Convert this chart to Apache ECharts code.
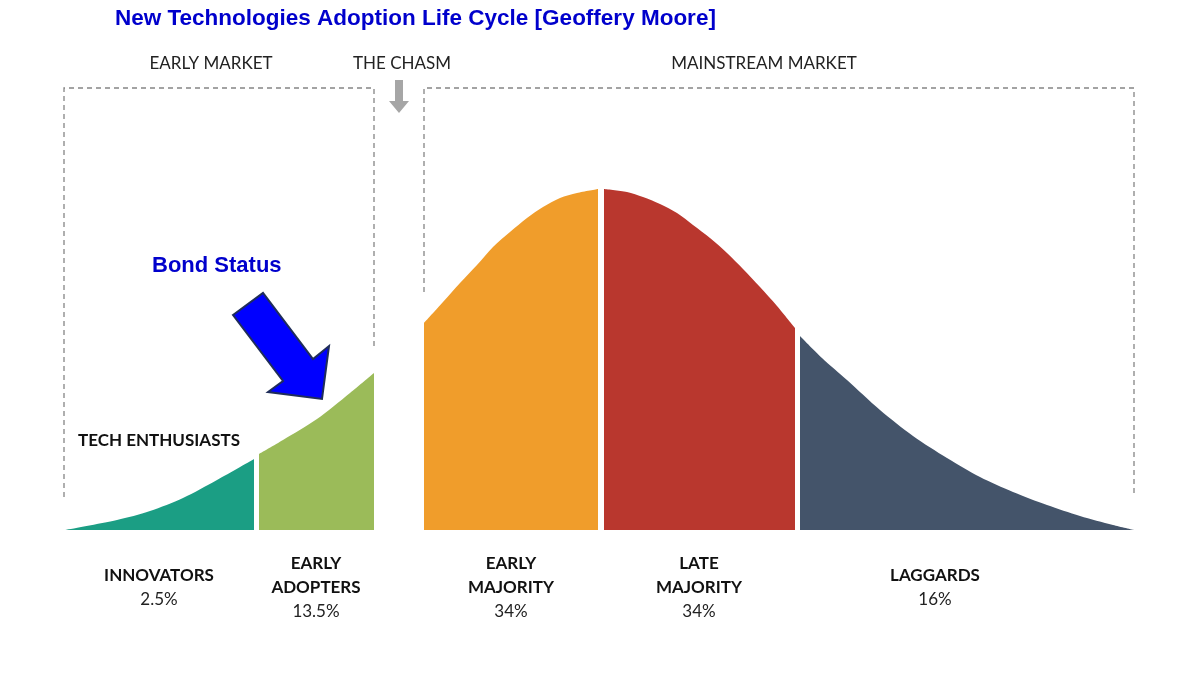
<!DOCTYPE html>
<html>
<head>
<meta charset="utf-8">
<title>Technology Adoption Life Cycle</title>
<script src="https://cdn.jsdelivr.net/npm/echarts@6/dist/echarts.min.js"></script>
<style>
  html, body { margin: 0; padding: 0; background: #fff; }
  #main { width: 1200px; height: 675px; }
</style>
</head>
<body>
<div id="main"></div>
<script>
// segment names, shares and personas
var segments = ['INNOVATORS', 'EARLY\nADOPTERS', 'EARLY\nMAJORITY', 'LATE\nMAJORITY', 'LAGGARDS'];
var shares = ['2.5%', '13.5%', '34%', '34%', '16%'];
var personas = ['TECH ENTHUSIASTS', 'VISIONARIES', 'PRAGMATISTS', 'CONSERVATIVES', 'SKEPTICS'];
var markets = ['EARLY MARKET', 'THE CHASM', 'MAINSTREAM MARKET'];

// curve heights  [x, height above baseline]
var innovators = [[65, 0], [117, 10], [150, 19], [183, 32], [217, 50], [254, 71]];
var earlyAdopters = [[259, 76], [283, 90], [317, 111], [350, 137], [374, 157]];
var earlyMajority = [[424, 207], [443, 228], [460, 247], [477, 265], [493, 283], [510, 298],
  [527, 312], [543, 323], [560, 332], [577, 337], [598, 341]];
var lateMajority = [[604, 341], [627, 338], [643, 333], [660, 326], [677, 317], [693, 305],
  [710, 292], [727, 277], [743, 261], [760, 243], [777, 224], [795, 202]];
var laggards = [[800, 194], [822, 172], [847, 150], [880, 120], [913, 94], [947, 72], [980, 53],
  [1013, 38], [1047, 25], [1080, 14], [1113, 5], [1134, 0]];

var colors = ['#1b9e84', '#9bbb59', '#f09d2b', '#b9372e', '#44546a'];

var myChart = echarts.init(document.getElementById('main'));

// label layout (axis units == pixels)
var segX = [159, 316, 511, 699, 935];
var personaPos = [[159, 441], [316, 495], [511, 383], [699, 383], [893, 495]];
var personaColor = ['#111', '#fff', '#fff', '#fff', '#fff'];
var marketX = [211, 402, 764];

function areaSeries(name, data, color) {
  return {
    name: name,
    type: 'line',
    data: data,
    smooth: 0.3,
    symbol: 'none',
    lineStyle: { width: 0 },
    areaStyle: { color: color, opacity: 1 },
    silent: true
  };
}

var graphics = [];

// title
graphics.push({
  type: 'text', left: 115, top: 7,
  style: { text: 'New Technologies Adoption Life Cycle [Geoffery Moore]', fill: '#0000cc',
    font: 'bold 22.5px "Liberation Sans", Arial, sans-serif' }
});
// bond status
graphics.push({
  type: 'text', left: 152, top: 255,
  style: { text: 'Bond Status', fill: '#0000cc', font: 'bold 22px "Liberation Sans", Arial, sans-serif' }
});

// market headers
markets.forEach(function (m, i) {
  graphics.push({
    type: 'text', x: marketX[i], y: 64,
    style: { text: m, fill: '#222', font: '17px Lato, "Open Sans", sans-serif',
      align: 'center', verticalAlign: 'middle' }
  });
});

// dashed boxes
graphics.push({
  type: 'polyline',
  shape: { points: [[64, 497], [64, 88], [374, 88], [374, 347]] },
  style: { stroke: '#858585', lineWidth: 1.3, lineDash: [5, 4], fill: null }
});
graphics.push({
  type: 'polyline',
  shape: { points: [[424, 292], [424, 88], [1134, 88], [1134, 497]] },
  style: { stroke: '#858585', lineWidth: 1.3, lineDash: [5, 4], fill: null }
});

// chasm arrow
graphics.push({
  type: 'polygon',
  shape: { points: [[395, 80], [403, 80], [403, 101], [409, 101], [399, 113], [389, 101], [395, 101]] },
  style: { fill: '#a6a6a6' }
});

// blue block arrow
graphics.push({
  type: 'polygon',
  shape: { points: [[233, 315], [263, 293], [313, 359], [329, 346], [322, 399], [268, 392], [283, 381]] },
  style: { fill: '#0000ff', stroke: '#1f2d5a', lineWidth: 2, lineJoin: 'miter' }
});

// personas
personas.forEach(function (p, i) {
  graphics.push({
    type: 'text', x: personaPos[i][0], y: personaPos[i][1],
    style: { text: p, fill: personaColor[i], font: 'bold 17px Lato, "Open Sans", sans-serif',
      align: 'center', verticalAlign: 'middle' }
  });
});

// segment names and shares
segments.forEach(function (s, i) {
  graphics.push({
    type: 'text', x: segX[i], y: 588,
    style: {
      text: '{b|' + s.split('\n').join('}\n{b|') + '}\n{p|' + shares[i] + '}',
      align: 'center', verticalAlign: 'middle',
      rich: {
        b: { fill: '#111', font: 'bold 17px Lato, "Open Sans", sans-serif', lineHeight: 24, align: 'center' },
        p: { fill: '#222', font: '17px Lato, "Open Sans", sans-serif', lineHeight: 24, align: 'center' }
      }
    }
  });
});

option = {
  backgroundColor: '#ffffff',
  animation: false,
  grid: { left: 0, right: 0, top: 0, bottom: 0 },
  xAxis: { type: 'value', min: 0, max: 1200, show: false },
  yAxis: { type: 'value', min: -145, max: 530, show: false },
  series: [
    areaSeries('Innovators', innovators, colors[0]),
    areaSeries('Early Adopters', earlyAdopters, colors[1]),
    areaSeries('Early Majority', earlyMajority, colors[2]),
    areaSeries('Late Majority', lateMajority, colors[3]),
    areaSeries('Laggards', laggards, colors[4])
  ],
  graphic: graphics
};

myChart.setOption(option);
</script>
</body>
</html>
